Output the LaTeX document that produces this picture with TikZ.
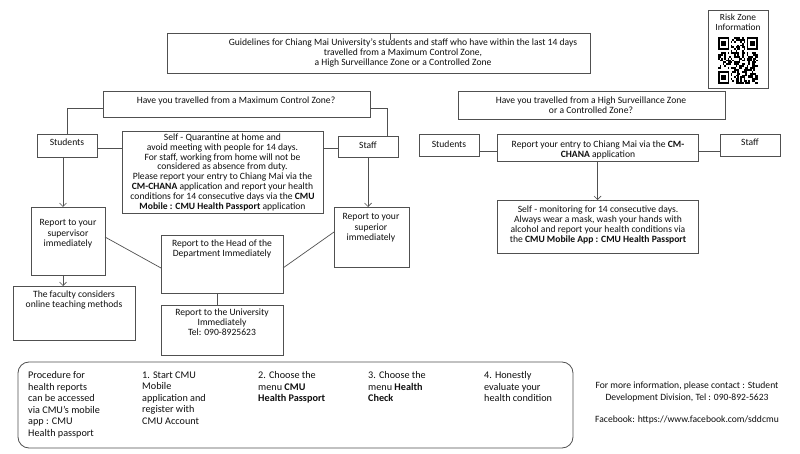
\documentclass[tikz,border=0pt]{standalone}
\usepackage{fontspec}
\setmainfont{Carlito}
\usetikzlibrary{arrows.meta}
\definecolor{lc}{RGB}{80,80,80}
\definecolor{tc}{RGB}{15,15,15}
\newcommand\mkbox[5]{\node[box,minimum width={#4-#2},minimum height={#5-#3}] (#1) at ({(#2+#4)/2},{(#3+#5)/2}) {};}
\begin{document}
\begin{tikzpicture}[x=1pt,y=-1pt,
  box/.style={draw=lc,line width=0.8pt,inner sep=0pt,outer sep=0pt},
  txt/.style={align=center,anchor=north,inner sep=0pt,font=\fontsize{9.6}{10.2}\selectfont,text=tc},
  ltxt/.style={align=left,anchor=north west,inner sep=0pt,font=\fontsize{10.2}{11.5}\selectfont,text=tc},
  ln/.style={draw=lc,line width=0.7pt},
  arr/.style={ln,-{Straight Barb[length=3.5pt,width=7pt]}}]
\useasboundingbox[fill=white] (0,0) rectangle (800,454);

% ---------- boxes ----------
\mkbox{title}{167}{33}{590}{73}
\mkbox{risk}{708}{10}{768}{88}
\mkbox{qL}{103}{91}{370}{117}
\mkbox{qR}{458}{91}{725}{119}
\mkbox{stuL}{37}{134}{97}{157}
\mkbox{quar}{122}{131}{323}{213}
\mkbox{stfL}{338}{136}{398}{157}
\mkbox{sup}{31}{207}{105}{275}
\mkbox{fac}{13}{286}{135}{340}
\mkbox{head}{161}{235}{283}{293}
\mkbox{uni}{161}{305}{283}{355}
\mkbox{supr}{334}{207}{409}{267}
\mkbox{stuR}{419}{134}{479}{156}
\mkbox{rep}{497}{134}{698}{161}
\mkbox{stfR}{720}{134}{780}{156}
\mkbox{mon}{497}{200}{698}{253}
\node[box,rounded corners=11pt,minimum width=555,minimum height=86] (proc) at (295.5,405) {};

% ---------- texts ----------
\node[txt,font=\fontsize{9.6}{10}\selectfont] (tTitle) at (403,38.5) {Guidelines for Chiang Mai University's students and staff who have within the last 14 days\\travelled from a Maximum Control Zone,\\a High Surveillance Zone or a Controlled Zone};
\node[txt,font=\fontsize{9.4}{10.6}\selectfont] (tRisk) at (738,13.5) {Risk Zone\\Information};
\node[txt] (tqL) at (236,96.5) {Have you travelled from a Maximum Control Zone?};
\node[txt] (tqR) at (591,96.5) {Have you travelled from a High Surveillance Zone\\or a Controlled Zone?};
\node[txt] (tstuL) at (67,138.5) {Students};
\node[txt] (tstfL) at (368,141.5) {Staff};
\node[txt,font=\fontsize{9.6}{9.85}\selectfont] (tquar) at (222.5,133.5) {Self - Quarantine at home and\\avoid meeting with people for 14 days.\\For staff, working from home will not be\\considered as absence from duty.\\Please report your entry to Chiang Mai via the\\\textbf{CM-CHANA} application and report your health\\conditions for 14 consecutive days via the \textbf{CMU}\\\textbf{Mobile : CMU Health Passport} application};
\node[txt] (tsup) at (68,219.5) {Report to your\\supervisor\\immediately};
\node[txt] (tsupr) at (371,213.5) {Report to your\\superior\\immediately};
\node[txt] (thead) at (222,239.5) {Report to the Head of the\\Department Immediately};
\node[txt] (tfac) at (74,290.5) {The faculty considers\\online teaching methods};
\node[txt] (tuni) at (222,308.5) {Report to the University\\Immediately\\Tel: 090-8925623};
\node[txt] (tstuR) at (449,140.5) {Students};
\node[txt] (trep) at (598,140.5) {Report your entry to Chiang Mai via the \textbf{CM-}\\\textbf{CHANA} application};
\node[txt] (tstfR) at (750,138.5) {Staff};
\node[txt] (tmon) at (598,205.5) {Self - monitoring for 14 consecutive days.\\Always wear a mask, wash your hands with\\alcohol and report your health conditions via\\the \textbf{CMU Mobile App : CMU Health Passport}};

\node[ltxt] (p0) at (28,371.5) {Procedure for\\health reports\\can be accessed\\via CMU’s mobile\\app : CMU\\Health passport};
\node[ltxt] (p1) at (142,371.5) {1. Start CMU\\Mobile\\application and\\register with\\CMU Account};
\node[ltxt] (p2) at (258,371.5) {2. Choose the\\menu \textbf{CMU}\\\textbf{Health Passport}};
\node[ltxt] (p3) at (368,371.5) {3. Choose the\\menu \textbf{Health}\\\textbf{Check}};
\node[ltxt] (p4) at (484,371.5) {4. Honestly\\evaluate your\\health condition};

\node[txt,font=\fontsize{9.6}{11.8}\selectfont] (info) at (687,381.5) {For more information, please contact : Student\\Development Division, Tel : 090-892-5623};
\node[txt,font=\fontsize{9.6}{11.8}\selectfont] (fb) at (687,415.5) {Facebook: https://www.facebook.com/sddcmu};

% ---------- QR code ----------
\begin{scope}[shift={(718,37)}]
\pgfmathsetseed{11}
\foreach \i in {0,...,24}{\foreach \j in {0,...,24}{%
  \pgfmathrandominteger{\r}{0}{1}%
  \ifnum\r=1 \fill[black] ({\i*1.6},{\j*1.88}) rectangle ++(1.6,1.88);\fi}}
\foreach \ci/\cj in {0/0,18/0,0/18}{%
  \fill[white] ({max(\ci-1,0)*1.6},{max(\cj-1,0)*1.88}) rectangle ({min(\ci+8,25)*1.6},{min(\cj+8,25)*1.88});
  \fill[black] ({\ci*1.6},{\cj*1.88}) rectangle ++({7*1.6},{7*1.88});
  \fill[white] ({(\ci+1)*1.6},{(\cj+1)*1.88}) rectangle ++({5*1.6},{5*1.88});
  \fill[black] ({(\ci+2)*1.6},{(\cj+2)*1.88}) rectangle ++({3*1.6},{3*1.88});}
\end{scope}

% ---------- connectors ----------
\draw[ln] ([xshift=11.5pt]title.north) -- ++(0,7);
\draw[ln] ([yshift=-4pt]qL.west) -| (stuL.north);
\draw[ln] ([yshift=-4pt]qL.east) -| ([xshift=19pt]stfL.north);
\draw[ln] (stuL.east |- 0,148) -- (quar.west |- 0,148);
\draw[ln] (quar.east |- 0,148) -- (stfL.west |- 0,148);
\coordinate (c1) at ([xshift=-4pt]stuL.south);
\draw[arr] (c1) -- (c1 |- sup.north);
\coordinate (c2) at ([xshift=-5pt]sup.south);
\draw[arr] (c2) -- (c2 |- fac.north);
\draw[arr] (stfL.south) -- (stfL.south |- supr.north);
\draw[ln] ([yshift=4pt]sup.east) -- ([yshift=-4pt]head.west);
\draw[ln] ([yshift=-4pt]head.east) -- ([yshift=5pt]supr.west);
\coordinate (c3) at ([xshift=-5pt]head.south);
\draw[ln] (c3) -- (c3 |- uni.north);
\draw[ln] (stuR.east |- 0,151) -- (rep.west |- 0,151);
\draw[ln] (rep.east |- 0,151) -- (stfR.west |- 0,151);
\draw[arr] (rep.south) -- (mon.north);
\end{tikzpicture}
\end{document}
